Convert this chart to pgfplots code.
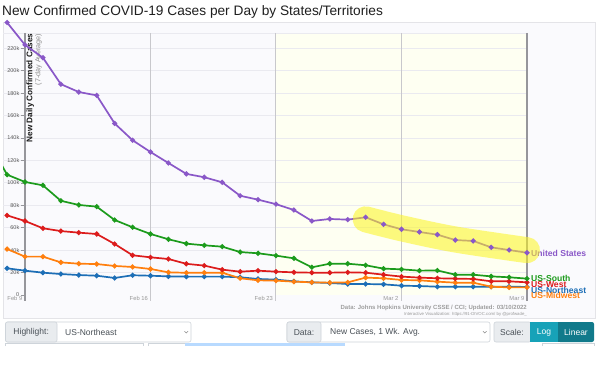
\documentclass[border=0pt]{standalone}
\usepackage{fontspec}
\setmainfont{Liberation Sans}
\usepackage{pgfplots}
\pgfplotsset{compat=1.18}
\usepackage{pgfplotstable}

\definecolor{cPurple}{RGB}{138,88,200}
\definecolor{cGreen}{RGB}{28,155,28}
\definecolor{cRed}{RGB}{220,28,28}
\definecolor{cOrange}{RGB}{255,127,14}
\definecolor{cBlue}{RGB}{28,110,182}
\definecolor{bgl}{RGB}{250,250,253}
\definecolor{boxb}{RGB}{228,228,232}
\definecolor{yel}{RGB}{254,255,242}
\definecolor{gridc}{RGB}{234,234,240}
\definecolor{vgrid}{RGB}{200,200,204}
\definecolor{axisc}{RGB}{150,150,155}
\definecolor{ylab}{RGB}{90,90,90}
\definecolor{xlab}{RGB}{150,150,150}
\definecolor{hl}{RGB}{252,245,30}
\definecolor{ctlbg}{RGB}{233,236,239}
\definecolor{ctlbd}{RGB}{206,212,218}
\definecolor{ctltx}{RGB}{73,80,87}
\definecolor{logc}{RGB}{23,162,184}
\definecolor{linc}{RGB}{17,122,139}
\definecolor{lblue}{RGB}{184,218,255}

\pgfplotstableread{
d   us     south  west   northeast midwest
-2  nan    136    nan    nan    nan
-1  243    107.3  71     23.8   41
0   223    100.8  66     21.7   34.2
1   211.6  97.8   59.5   19.9   34.2
2   188    84     57     18.7   29.1
3   181    80.3   55.6   17.8   27.9
4   178    78.8   54.4   17.2   27.6
5   153    66.9   45.5   15.2   25.9
6   138    60.4   35.4   17.6   25
7   127.5  54.4   33.6   17.2   23.2
8   117.7  49.7   32.1   16.6   20.2
9   108    45.8   27.8   16.4   19.8
10  105    44.3   26.2   16.4   19.9
11  100.5  43.1   22.6   16.4   19.9
12  88.5   38.3   20.8   15.8   14.9
13  85     37.2   21.7   14.3   13.1
14  81     35.1   20.8   13.7   12.8
15  75.8   32.7   20.2   12.2   11.9
16  66     24.7   19.9   11.3   11.3
17  67.8   27.9   19.9   10.7   11
18  67.2   27.9   20.2   9.8    11.3
19  69.3   26.5   19.9   9.8    15.5
20  63     23.5   18.1   9.5    14.9
21  58.6   22.9   16.4   8.3    13.4
22  56.2   21.7   15.5   8      13.1
23  53.8   21.9   14.9   7.4    11.9
24  49     18.1   14.6   7.4    11
25  48.2   18.1   14.3   7.4    11
26  42.5   16.6   12.2   7.4    7.4
27  40.1   15.8   12.2   7.4    6.8
28  37.7   14.6   11.3   7.2    6.8
}\data

\begin{document}
\begin{tikzpicture}
\path[use as bounding box] (0,0) rectangle (600pt,386pt);
\begin{scope}[x=1pt,y=-1pt,shift={(0pt,386pt)}]
  \fill[white] (0,0) rectangle (600,386);
  % title
  \node[anchor=base west, inner sep=0, font=\fontsize{13.7}{16}\selectfont, text=black!88] at (2,15.5) {New Confirmed COVID-19 Cases per Day by States/Territories};
  % outer box
  \filldraw[fill=bgl, draw=boxb, line width=0.8pt] (3,22) rectangle (595,318);
  \fill[yel] (275.5,33) rectangle (527,295);
  \draw[gridc, line width=0.8pt] (3,33) -- (527,33);
  \foreach \v in {20,40,...,220} {
    \draw[gridc, line width=0.8pt] (3,{295-1.1214*\v}) -- (527,{295-1.1214*\v});
  }
  \foreach \x in {150.5,275.5,401} {
    \draw[vgrid, line width=0.8pt] (\x,33) -- (\x,301);
  }
  \draw[axisc, line width=1.1pt] (25,33) -- (25,301);
  \draw[axisc, line width=1.1pt] (527,33) -- (527,301);
  % y tick labels
  \foreach \v/\t in {0/0,20/20k,40/40k,60/60k,80/80k,100/100k,120/120k,140/140k,160/160k,180/180k,200/200k,220/220k} {
    \node[anchor=east, inner sep=0, font=\fontsize{5.5}{6}\selectfont, text=ylab] at (19.5,{295-1.1214*\v}) {\t};
    \draw[axisc, line width=0.6pt] (21,{295-1.1214*\v}) -- (25,{295-1.1214*\v});
  }
  % x tick labels
  \foreach \x/\t in {25/Feb 9,150.5/Feb 16,275.5/Feb 23,401/Mar 2,527/Mar 9} {
    \node[anchor=base east, inner sep=0, font=\fontsize{5.8}{6}\selectfont, text=xlab] at ({\x-2.5},301) {\t};
  }
  % y axis title
  \node[rotate=90, anchor=north east, inner sep=0, font=\bfseries\fontsize{8.2}{9}\selectfont, text=black!90] at (26.3,33.5) {New Daily Confirmed Cases};
  \node[rotate=90, anchor=north east, inner sep=0, font=\fontsize{7.2}{8}\selectfont, text=black!45] at (35,33.5) {(7-day Average)};
  % series labels
  \node[anchor=base west, inner sep=0, font=\bfseries\fontsize{8.6}{9}\selectfont, text=cPurple] at (531,256.3) {United States};
  \node[anchor=base west, inner sep=0, font=\bfseries\fontsize{8.6}{9}\selectfont, text=cGreen] at (531,281.6) {US-South};
  \node[anchor=base west, inner sep=0, font=\bfseries\fontsize{8.6}{9}\selectfont, text=cRed] at (531,287.4) {US-West};
  \node[anchor=base west, inner sep=0, font=\bfseries\fontsize{8.6}{9}\selectfont, text=cBlue] at (531,293.1) {US-Northeast};
  \node[anchor=base west, inner sep=0, font=\bfseries\fontsize{8.6}{9}\selectfont, text=cOrange] at (531,298.8) {US-Midwest};
  % source
  \node[anchor=base east, inner sep=0, font=\bfseries\fontsize{6}{7}\selectfont, text=black!38] at (527,309.2) {Data: Johns Hopkins University CSSE / CCI; Updated: 03/10/2022};
  \node[anchor=base east, inner sep=0, font=\fontsize{4.3}{5}\selectfont, text=black!40] at (527,315.5) {Interactive Visualization: https://91-DIVOC.com/ by @profwade\_};
\end{scope}

\begin{axis}[at={(3pt,68pt)}, anchor=south west, width=592pt, height=296pt, scale only axis,
  xmin=-1.227, xmax=31.792, ymin=-20.51, ymax=243.45, axis lines=none, clip=true,
  every axis plot/.append style={line width=1.7pt, mark=*, mark size=1.6pt}]
  \addplot[cBlue, mark options={fill=cBlue}] table[x=d,y=northeast]{\data};
  \addplot[cOrange, mark options={fill=cOrange}] table[x=d,y=midwest]{\data};
  \addplot[cRed, mark options={fill=cRed}] table[x=d,y=west]{\data};
  \addplot[cGreen, mark options={fill=cGreen}] table[x=d,y=south]{\data};
  \addplot[cPurple, mark options={fill=cPurple}] table[x=d,y=us]{\data};
  \addplot[hl, line width=26pt, line cap=round, opacity=0.55, smooth, mark=none] coordinates {(19,67.5) (21,59.5) (24,49.5) (28,40)};
\end{axis}

\begin{scope}[x=1pt,y=-1pt,shift={(0pt,386pt)}]
  % Highlight group
  \filldraw[fill=white, draw=ctlbd, line width=0.6pt, rounded corners=2pt] (5.5,322) rectangle (191,342);
  \filldraw[fill=ctlbg, draw=ctlbd, line width=0.6pt, rounded corners=2pt] (5.5,322) rectangle (57,342);
  \node[anchor=center, inner sep=0, font=\fontsize{8.5}{9}\selectfont, text=ctltx] at (31.2,332.2) {Highlight:};
  \node[anchor=west, inner sep=0, font=\fontsize{8.5}{9}\selectfont, text=ctltx] at (65,332.2) {US-Northeast};
  \draw[black!45, line width=0.5pt] (184.5,331.2) -- (186.3,333) -- (188.1,331.2);
  % Data group
  \filldraw[fill=white, draw=ctlbd, line width=0.6pt, rounded corners=2pt] (287,322) rectangle (490,342);
  \filldraw[fill=ctlbg, draw=ctlbd, line width=0.6pt, rounded corners=2pt] (287,322) rectangle (321,342);
  \node[anchor=center, inner sep=0, font=\fontsize{8.5}{9}\selectfont, text=ctltx] at (304,332.2) {Data:};
  \node[anchor=west, inner sep=0, font=\fontsize{8.5}{9}\selectfont, text=ctltx] at (330,332.2) {New Cases, 1 Wk. Avg.};
  \draw[black!45, line width=0.5pt] (483,331.2) -- (484.8,333) -- (486.6,331.2);
  % Scale group
  \filldraw[fill=ctlbg, draw=ctlbd, line width=0.6pt, rounded corners=2pt] (494,322) rectangle (531,342);
  \node[anchor=center, inner sep=0, font=\fontsize{8.5}{9}\selectfont, text=ctltx] at (512,332.2) {Scale:};
  \fill[logc] (530,322) rectangle (558,342);
  \fill[linc, rounded corners=2pt] (558,322) rectangle (594,342);
  \fill[linc] (558,322) rectangle (562,342);
  \node[anchor=center, inner sep=0, font=\fontsize{8.5}{9}\selectfont, text=white] at (544,332.2) {Log};
  \node[anchor=center, inner sep=0, font=\fontsize{8.5}{9}\selectfont, text=white] at (576,332.2) {Linear};
  % partial next row
  \draw[ctlbd, line width=0.6pt] (5.5,346) -- (5.5,343.5) -- (143,343.5) -- (143,346);
  \draw[ctlbd, line width=0.6pt] (148,346) -- (148,343.5) -- (185,343.5);
  \fill[lblue] (185,343) rectangle (345,346);
  \draw[ctlbd, line width=0.6pt] (542,346) -- (542,343.5) -- (594,343.5) -- (594,346);
\end{scope}
\end{tikzpicture}
\end{document}
